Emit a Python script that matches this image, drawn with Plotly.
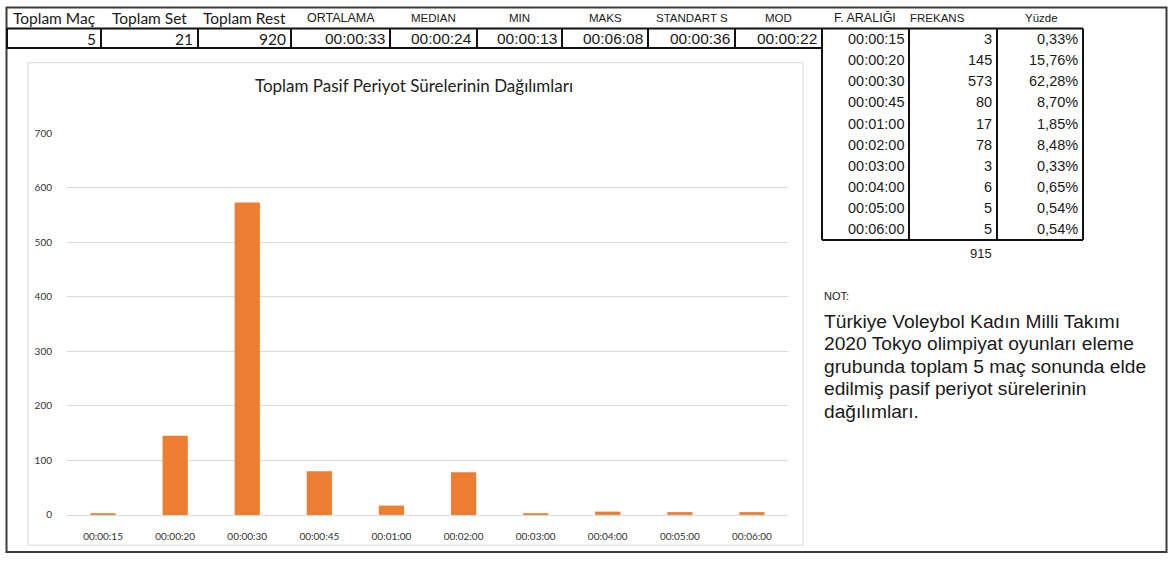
import plotly.graph_objects as go

# ---- data ----
summary_headers = ["Toplam Maç", "Toplam Set", "Toplam Rest", "ORTALAMA", "MEDIAN",
                   "MIN", "MAKS", "STANDART S", "MOD"]
summary_values = ["5", "21", "920", "00:00:33", "00:00:24", "00:00:13",
                  "00:06:08", "00:00:36", "00:00:22"]

freq_headers = ["F. ARALIĞI", "FREKANS", "Yüzde"]
intervals = ["00:00:15", "00:00:20", "00:00:30", "00:00:45", "00:01:00",
             "00:02:00", "00:03:00", "00:04:00", "00:05:00", "00:06:00"]
frequency = [3, 145, 573, 80, 17, 78, 3, 6, 5, 5]
percent = ["0,33%", "15,76%", "62,28%", "8,70%", "1,85%",
           "8,48%", "0,33%", "0,65%", "0,54%", "0,54%"]

chart_title = "Toplam Pasif Periyot Sürelerinin Dağılımları"
note_head = "NOT:"
note_lines = ["Türkiye Voleybol Kadın Milli Takımı",
              "2020 Tokyo olimpiyat oyunları eleme",
              "grubunda toplam 5 maç sonunda elde",
              "edilmiş pasif periyot sürelerinin",
              "dağılımları."]

# ---- page geometry (pixels) ----
W, H = 1169, 561


def px(x):
    return x / W


def py(y):
    return 1 - y / H


CALIBRI = "Lato, Carlito, Calibri, sans-serif"
ARIAL = "Liberation Sans, Arial, sans-serif"
INK = "#1a1a1a"

col_edges = [7, 101, 198, 291, 390, 477, 562, 648, 735, 822]
row_top, row_bot = 23, 43
ft_edges = [822, 909, 997, 1083]
ft_top = 23
ft_row_h = 21.6

fig = go.Figure()

fig.add_trace(go.Bar(
    x=intervals, y=frequency,
    marker=dict(color="#ED7D31", line=dict(width=0)),
    hoverinfo="x+y",
))

shapes = []
annotations = []


def line(x0, y0, x1, y1, color="#111111", width=2):
    shapes.append(dict(type="line", xref="paper", yref="paper",
                       x0=px(x0), y0=py(y0), x1=px(x1), y1=py(y1),
                       line=dict(color=color, width=width)))


def text(x, y, s, size, family, anchor="center", color=INK):
    annotations.append(dict(xref="paper", yref="paper", x=px(x), y=py(y),
                            text=s, showarrow=False, xanchor=anchor,
                            yanchor="middle",
                            font=dict(size=size, family=family, color=color)))


# outer frame
shapes.append(dict(type="rect", xref="paper", yref="paper",
                   x0=px(6.5), y0=py(558), x1=px(1166.5), y1=py(1.5),
                   line=dict(color="#3c3c3c", width=2)))

# chart area frame
shapes.append(dict(type="rect", xref="paper", yref="paper",
                   x0=px(28), y0=py(551), x1=px(803), y1=py(58),
                   line=dict(color="#D9D9D9", width=1)))

# summary row cells
line(col_edges[0], row_top, col_edges[-1], row_top)
line(col_edges[0], row_bot, col_edges[-1], row_bot)
for e in col_edges:
    line(e, row_top, e, row_bot)

# frequency table frame
ft_bot = ft_top + ft_row_h * len(intervals)
line(ft_edges[0], ft_top, ft_edges[-1], ft_top)
line(ft_edges[0], ft_bot, ft_edges[-1], ft_bot)
for e in ft_edges:
    line(e, ft_top, e, ft_bot)

# summary headers
header_fonts = [CALIBRI] * 3 + [ARIAL] * 6
header_sizes = [15.5] * 3 + [12.5] + [11.5] * 5
for i, h in enumerate(summary_headers):
    cx = (col_edges[i] + col_edges[i + 1]) / 2
    text(cx, 12, h, header_sizes[i], header_fonts[i])

# summary values, right aligned in their cells
value_fonts = [CALIBRI] * 3 + [ARIAL] * 6
value_sizes = [15.5] * 3 + [15.5] * 6
for i, v in enumerate(summary_values):
    text(col_edges[i + 1] - 3, 33.5, v, value_sizes[i], value_fonts[i], anchor="right")

# frequency table headers
for cx, h, sz in zip([865, 937, 1041], freq_headers, [12.5, 11.5, 11.5]):
    text(cx, 12, h, sz, ARIAL)

# frequency table body
for i in range(len(intervals)):
    yc = ft_top + ft_row_h * (i + 0.5)
    text(ft_edges[1] - 3, yc, intervals[i], 14.5, ARIAL, anchor="right")
    text(ft_edges[2] - 3, yc, str(frequency[i]), 14.5, ARIAL, anchor="right")
    text(ft_edges[3] - 3, yc, percent[i], 14.5, ARIAL, anchor="right")

text(ft_edges[2] - 3, 253, str(sum(frequency)), 13, ARIAL, anchor="right")

# note
text(822, 296, note_head, 11, ARIAL, anchor="left")
for i, s in enumerate(note_lines):
    text(822, 322 + 23 * i, s, 19.2, ARIAL, anchor="left")

fig.update_layout(
    width=W, height=H,
    margin=dict(l=0, r=0, t=0, b=0),
    paper_bgcolor="white", plot_bgcolor="white",
    showlegend=False,
    bargap=0.65,
    shapes=shapes,
    annotations=annotations,
    title=dict(text=chart_title, x=px(414), y=py(82), xref="paper", yref="paper",
               xanchor="center", yanchor="middle",
               font=dict(family=CALIBRI, size=17, color="#222222")),
    xaxis=dict(
        domain=[px(67), px(788)],
        type="category",
        range=[-0.5, len(intervals) - 0.5],
        showgrid=False, zeroline=False,
        showline=True, linecolor="#D9D9D9", linewidth=1,
        ticks="", ticklabelstandoff=12,
        tickfont=dict(family=CALIBRI, size=10, color="#333333"),
    ),
    yaxis=dict(
        domain=[py(520), py(130)],
        range=[0, 700],
        dtick=100,
        showgrid=True, gridcolor="#D9D9D9", gridwidth=1,
        zeroline=False, showline=False,
        ticks="", ticklabelstandoff=14,
        tickfont=dict(family=CALIBRI, size=10, color="#333333"),
    ),
)

fig.write_html("out.html")
